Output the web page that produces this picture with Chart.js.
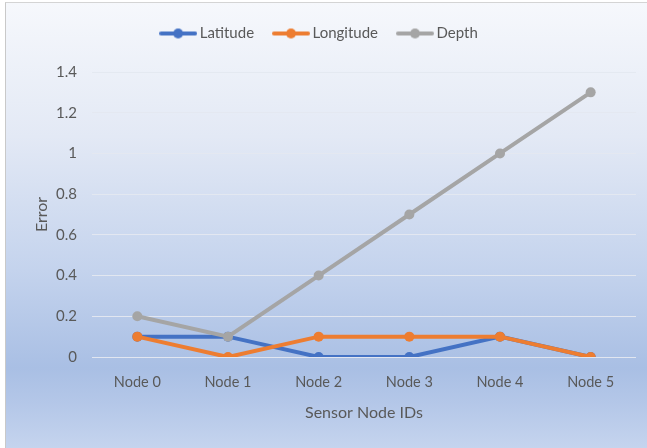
<!DOCTYPE html>
<html>
<head>
<meta charset="utf-8">
<script src="https://cdn.jsdelivr.net/npm/chart.js@4"></script>
<style>
  html, body { margin: 0; padding: 0; background: #fff; }
  #frame {
    position: absolute; left: 5px; top: 2px; width: 641px; height: 445px;
    border-left: 1px solid #c9c9c9; border-top: 1px solid #d4d4d4;
    background: linear-gradient(to bottom, #f6f8fc 0%, #e3e9f5 30%, #c4d3ed 60%, #a9bfe4 82%, #b4c7e8 90%, #c5d4ee 100%);
  }
  #box { position: absolute; left: 0; top: 0; width: 641px; height: 445px; }
</style>
</head>
<body>
<div id="frame"><div id="box"><canvas id="errChart"></canvas></div></div>
<script>
const nodeLabels = ['Node 0', 'Node 1', 'Node 2', 'Node 3', 'Node 4', 'Node 5'];
const latitudeErr = [0.1, 0.1, 0, 0, 0.1, 0];
const longitudeErr = [0.1, 0, 0.1, 0.1, 0.1, 0];
const depthErr = [0.2, 0.1, 0.4, 0.7, 1.0, 1.3];

const textGrey = '#595959';
const fontName = 'Lato, "Open Sans", sans-serif';

// little line-with-dot swatch for the legend
function swatch(color) {
  const c = document.createElement('canvas');
  c.width = 38; c.height = 12;
  const g = c.getContext('2d');
  g.strokeStyle = color; g.lineWidth = 4; g.lineCap = 'round';
  g.beginPath(); g.moveTo(2, 6); g.lineTo(36, 6); g.stroke();
  g.fillStyle = color;
  g.beginPath(); g.arc(19, 6, 5, 0, Math.PI * 2); g.fill();
  return c;
}

function series(label, values, color, order) {
  return {
    label: label,
    data: values,
    borderColor: color,
    backgroundColor: color,
    borderWidth: 4,
    pointRadius: 5,
    pointHoverRadius: 5,
    pointBorderWidth: 0,
    pointStyle: 'circle',
    tension: 0,
    order: order
  };
}

const legendGap = {
  id: 'legendGap',
  beforeInit(chart) {
    const fit = chart.legend.fit;
    chart.legend.fit = function () {
      fit.bind(chart.legend)();
      this.height += 21;
    };
  }
};

let ctx = document.getElementById('errChart').getContext('2d');
let errChart = new Chart(ctx, {
  type: 'line',
  data: {
    labels: nodeLabels,
    datasets: [
      series('Latitude', latitudeErr, '#4472C4', 3),
      series('Longitude', longitudeErr, '#ED7D31', 2),
      series('Depth', depthErr, '#A5A5A5', 1)
    ]
  },
  options: {
    responsive: true,
    maintainAspectRatio: false,
    animation: false,
    layout: { padding: { top: 0, right: 11, bottom: 0, left: 0 } },
    plugins: {
      tooltip: { enabled: false },
      legend: {
        position: 'top',
        labels: {
          color: textGrey,
          font: { family: fontName, size: 15 },
          usePointStyle: true,
          pointStyleWidth: 28,
          boxHeight: 12,
          padding: 23,
          sort: (a, b) => a.datasetIndex - b.datasetIndex,
          generateLabels: (chart) =>
            Chart.defaults.plugins.legend.labels.generateLabels(chart).map((item) => {
              item.pointStyle = swatch(chart.data.datasets[item.datasetIndex].borderColor);
              return item;
            })
        }
      }
    },
    scales: {
      x: {
        offset: true,
        grid: { display: false, drawTicks: false },
        border: { display: false },
        ticks: { color: textGrey, font: { family: fontName, size: 14.5 }, padding: 17 },
        title: {
          display: true, text: 'Sensor Node IDs', color: textGrey,
          font: { family: fontName, size: 16 }, padding: { top: 4, bottom: 26 }
        },
        afterFit: (scale) => { scale.height = 91; }
      },
      y: {
        min: 0,
        max: 1.4,
        grid: { color: 'rgba(228,232,240,0.95)', lineWidth: 1, drawTicks: false },
        border: { display: false },
        ticks: {
          stepSize: 0.2,
          color: textGrey,
          font: { family: fontName, size: 15 },
          padding: 15,
          callback: (v) => String(Number(v.toFixed(1)))
        },
        title: {
          display: true, text: 'Error', color: textGrey,
          font: { family: fontName, size: 16 }, padding: { top: 26, bottom: 4 }
        },
        afterFit: (scale) => { scale.width = 86; }
      }
    }
  },
  plugins: [legendGap]
});
</script>
</body>
</html>
